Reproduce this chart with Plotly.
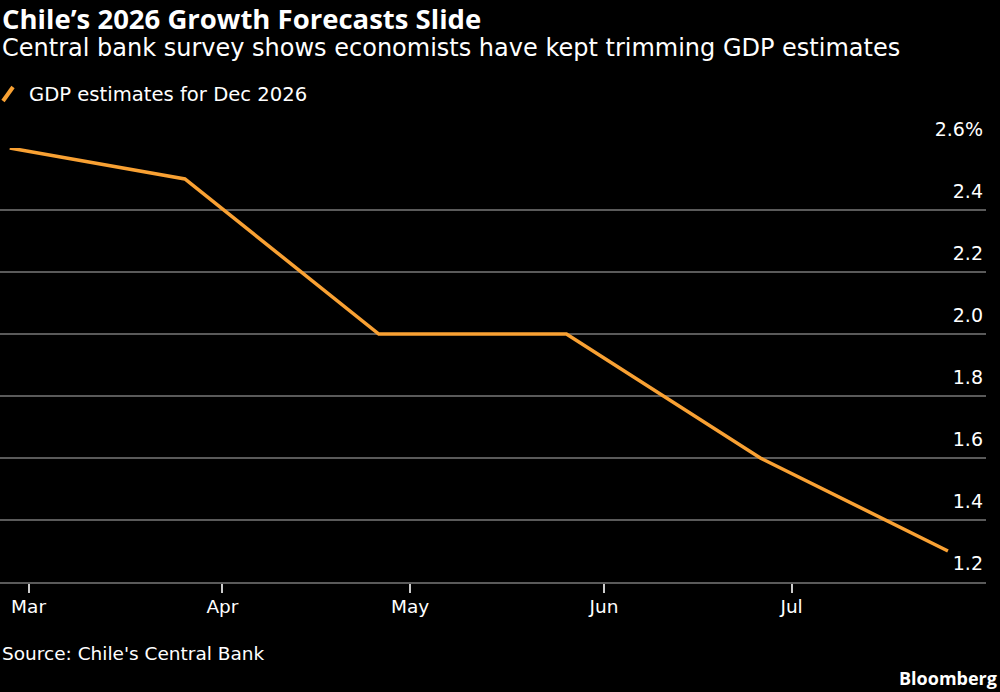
import plotly.graph_objects as go

# ---- data ----
survey_dates = ["2026-02-26", "2026-03-26", "2026-04-26", "2026-05-26", "2026-06-26", "2026-07-26"]
gdp_estimates = [2.6, 2.5, 2.0, 2.0, 1.6, 1.3]
x_tick_values = ["2026-03-01", "2026-04-01", "2026-05-01", "2026-06-01", "2026-07-01"]
y_tick_values = [1.2, 1.4, 1.6, 1.8, 2.0, 2.2, 2.4, 2.6]
y_tick_labels = ["1.2", "1.4", "1.6", "1.8", "2.0", "2.2", "2.4", "2.6%"]
series_name = "GDP estimates for Dec 2026"
title_text = "Chile’s 2026 Growth Forecasts Slide"
subtitle_text = "Central bank survey shows economists have kept trimming GDP estimates"
source_text = "Source: Chile's Central Bank"
brand_text = "Bloomberg"

W, H = 1000, 692
ML, MR, MT, MB = 0, 14, 148, 110
PH = H - MT - MB
PW = W - ML - MR

def px_y(p):
    return (H - MB - p) / PH

def px_x(p):
    return (p - ML) / PW

ORANGE = "#F9A133"
FONT = "DejaVu Sans"
BOLD_FONT = "Open Sans"

fig = go.Figure()
fig.add_trace(go.Scatter(
    x=survey_dates, y=gdp_estimates, mode="lines", name=series_name,
    line=dict(color=ORANGE, width=3.5), showlegend=False,
))

fig.update_layout(
    width=W, height=H,
    margin=dict(l=ML, r=MR, t=MT, b=MB),
    paper_bgcolor="black", plot_bgcolor="black",
    font=dict(family=FONT, color="white", size=18),
    xaxis=dict(
        type="date",
        range=["2026-02-24 10:30", "2026-08-01 02:00"],
        tickvals=x_tick_values, tickformat="%b",
        showgrid=False, showline=True, linecolor="#5a5a5a", linewidth=2,
        ticks="outside", ticklen=9, tickwidth=1.5, tickcolor="#cccccc",
        ticklabelstandoff=-2,
        tickfont=dict(size=18.5, color="white", family=FONT),
        zeroline=False, fixedrange=True,
    ),
    yaxis=dict(
        range=[1.2, 2.6], side="right",
        tickvals=y_tick_values, ticktext=y_tick_labels,
        ticklabelposition="inside top", ticklabeloverflow="allow",
        ticklabelshift=-5,
        showgrid=True, gridcolor="#5a5a5a", gridwidth=1.5,
        ticks="", showline=False, zeroline=False,
        tickfont=dict(size=19, color="white", family=FONT),
        fixedrange=True,
    ),
)

fig.add_annotation(text="<b>" + title_text + "</b>", xref="paper", yref="paper",
                   x=px_x(0), y=px_y(18), xanchor="left", yanchor="middle",
                   showarrow=False, font=dict(size=27.5, color="white", family=BOLD_FONT))
fig.add_annotation(text=subtitle_text, xref="paper", yref="paper",
                   x=px_x(0), y=px_y(48), xanchor="left", yanchor="middle",
                   showarrow=False, font=dict(size=24, color="white", family=FONT))
fig.add_annotation(text=series_name, xref="paper", yref="paper",
                   x=px_x(27), y=px_y(95), xanchor="left", yanchor="middle",
                   showarrow=False, font=dict(size=19.6, color="white", family=FONT))
fig.add_shape(type="line", xref="paper", yref="paper",
              x0=px_x(3), y0=px_y(101), x1=px_x(13), y1=px_y(87),
              line=dict(color=ORANGE, width=4))
fig.add_annotation(text=source_text, xref="paper", yref="paper",
                   x=px_x(0), y=px_y(653), xanchor="left", yanchor="middle",
                   showarrow=False, font=dict(size=18.5, color="white", family=FONT))
fig.add_annotation(text="<b>" + brand_text + "</b>", xref="paper", yref="paper",
                   x=px_x(999), y=px_y(678), xanchor="right", yanchor="middle",
                   showarrow=False, font=dict(size=18, color="white", family=BOLD_FONT))

fig.write_html("out.html", config={"displayModeBar": False})
